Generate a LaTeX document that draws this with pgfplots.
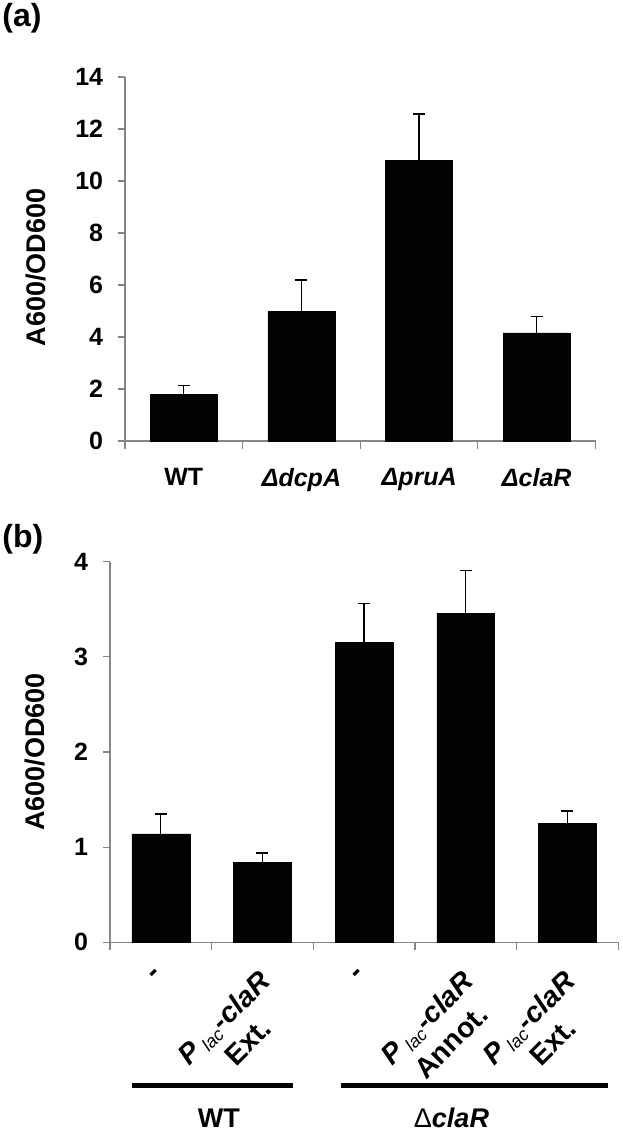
\documentclass[border=0pt]{standalone}
\usepackage{fontspec}
\setmainfont{Liberation Sans}
\usepackage{pgfplots}
\pgfplotsset{compat=1.18}
\definecolor{axisgray}{RGB}{134,134,134}
\definecolor{barblack}{RGB}{2,2,2}

% 1 px of the reference = 0.5pt
\pgfplotsset{
  panel/.style={
    scale only axis,
    axis x line*=bottom, axis y line*=left,
    axis line style={-, draw=axisgray, line width=0.6pt},
    tick align=outside,
    major tick length=3.75pt,
    tick style={draw=axisgray, line width=0.6pt},
    /pgf/number format/assume math mode=true,
    yticklabel style={anchor=east, inner sep=0pt, xshift=-7pt,
      font=\fontsize{12.5}{15}\selectfont\bfseries},
    ylabel={A600/OD600},
    ylabel style={rotate=0, anchor=center, inner sep=0pt,
      font=\fontsize{13.5}{16}\selectfont\bfseries},
    ybar, bar width=0.57,
    clip=false,
  },
  bars/.style={fill=barblack, draw=barblack, line width=0.3pt,
    error bars/.cd, y dir=plus, y explicit,
    error bar style={black, line width=0.65pt},
    error mark options={black, line width=0.65pt, mark size=3pt, rotate=90}},
}
\newcommand{\plac}{\textit{P}\,\textsubscript{\fontsize{9}{10}\selectfont\mdseries\itshape lac}\textit{-claR}}

\begin{document}
\begin{tikzpicture}
\useasboundingbox (0,0) rectangle (311pt,-569pt);

\node[anchor=north west, inner sep=0pt, font=\fontsize{16}{19}\selectfont\bfseries]
  at (1pt,-1.5pt) {(a)};
\node[anchor=north west, inner sep=0pt, font=\fontsize{16}{19}\selectfont\bfseries]
  at (1pt,-262pt) {(b)};

% ---- panel (a)
\begin{axis}[panel,
  at={(62.5pt,-220.5pt)}, anchor=south west,
  width=235.25pt, height=182pt,
  xmin=-0.5, xmax=3.5, ymin=0, ymax=14,
  ytick={0,2,4,6,8,10,12,14},
  xtick={-0.5,0.5,1.5,2.5,3.5},
  xticklabels={,,,,},
  extra x ticks={0,1,2,3},
  extra x tick labels={WT, \textit{ΔdcpA}, \textit{ΔpruA}, \textit{ΔclaR}},
  extra x tick style={major tick length=0pt,
    xticklabel style={anchor=north, inner sep=0pt, yshift=-13.5pt,
      font=\fontsize{12.5}{15}\selectfont\bfseries}},
  ylabel style={at={(axis description cs:-0.19,0.477)}},
]
\addplot[bars] coordinates {
  (0,1.80)  +- (0,0.34)
  (1,4.97)  +- (0,1.22)
  (2,10.80) +- (0,1.78)
  (3,4.16)  +- (0,0.64)
};
\end{axis}

% ---- panel (b)
\begin{axis}[panel,
  at={(55pt,-471.15pt)}, anchor=south west,
  width=254.15pt, height=190.3pt,
  xmin=-0.5, xmax=4.5, ymin=0, ymax=4,
  ytick={0,1,2,3,4},
  xtick={-0.5,0.5,1.5,2.5,3.5,4.5},
  xticklabels={,,,,,},
  extra x ticks={0,1,2,3,4},
  extra x tick labels={-, {\plac\\Ext.}, -, {\plac\\Annot.}, {\plac\\Ext.}},
  extra x tick style={major tick length=0pt,
    xticklabel style={xshift=-2.5pt, yshift=-13pt, rotate=45, anchor=north east,
      align=center, inner sep=0pt,
      font=\fontsize{14.2}{17}\selectfont\bfseries}},
  ylabel style={at={(axis description cs:-0.148,0.5)}},
]
\addplot[bars] coordinates {
  (0,1.14) +- (0,0.21)
  (1,0.84) +- (0,0.10)
  (2,3.15) +- (0,0.41)
  (3,3.46) +- (0,0.45)
  (4,1.25) +- (0,0.13)
};
\draw[line width=2.5pt] (axis cs:-0.284,-1.50) -- (axis cs:1.30,-1.50);
\draw[line width=2.5pt] (axis cs:1.772,-1.50) -- (axis cs:4.398,-1.50);
\node[inner sep=0pt, font=\fontsize{13.5}{16}\selectfont\bfseries]
  at (axis cs:0.572,-1.847) {WT};
\node[inner sep=0pt, font=\fontsize{13.5}{16}\selectfont\bfseries]
  at (axis cs:2.859,-1.847) {{\mdseries Δ}\textit{claR}};
\end{axis}
\end{tikzpicture}
\end{document}
